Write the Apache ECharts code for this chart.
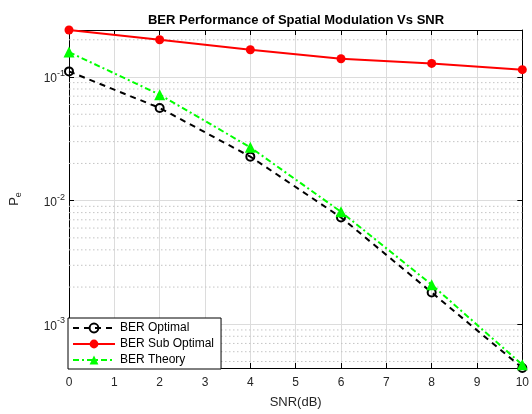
<!DOCTYPE html>
<html>
<head>
<meta charset="utf-8">
<script src="https://cdn.jsdelivr.net/npm/echarts@6/dist/echarts.min.js"></script>
<style>html,body{margin:0;padding:0;background:#fff}#c{width:532px;height:414px}</style>
</head>
<body>
<div id="c"></div>
<script>
const snr = [0, 2, 4, 6, 8, 10];
const berOptimal = [0.111, 0.0562, 0.0227, 0.00732, 0.00181, 0.000443];
const berSubOptimal = [0.240, 0.200, 0.166, 0.1406, 0.1288, 0.1146];
const berTheory = [0.159, 0.072, 0.0270, 0.00812, 0.00209, 0.000471];
const seriesNames = ['BER Optimal', 'BER Sub Optimal', 'BER Theory'];
const xTickValues = [0, 1, 2, 3, 4, 5, 6, 7, 8, 9, 10];
const decades = [1e-4, 1e-3, 1e-2, 1e-1];
const minorMultipliers = [2, 3, 4, 5, 6, 7, 8, 9];

const FONT = "'Liberation Sans', Arial, Helvetica, sans-serif";
const all = berOptimal.concat(berSubOptimal, berTheory);
const yMin = Math.min.apply(null, all);
const yMax = Math.max.apply(null, all);
const minorVals = [];
decades.forEach(d => minorMultipliers.forEach(m => {
  const v = d * m;
  if (v > yMin && v < yMax) minorVals.push(v);
}));
const pairs = arr => snr.map((x, i) => [x, arr[i]]);

const yLabelFmt = function (v) {
  const e = Math.round(Math.log10(v));
  if (Math.abs(Math.log10(v) - e) > 1e-6) return '';
  return '{b|10}{sup|' + e + '}';
};

const minorSeries = minorVals.map((v, i) => ({
  name: 'minor' + i, type: 'line', silent: true, z: 1,
  symbol: 'none', data: [[xTickValues[0], v], [xTickValues[xTickValues.length - 1], v]],
  lineStyle: {color: '#c4c4c4', type: [1.5, 2.5], width: 1},
  emphasis: {disabled: true}, tooltip: {show: false}
}));

const chart = echarts.init(document.getElementById('c'), null, {renderer: 'canvas'});
chart.setOption({
  animation: false,
  backgroundColor: '#fff',
  title: {
    text: 'BER Performance of Spatial Modulation Vs SNR',
    left: 291, top: 9, textAlign: 'center',
    textStyle: {fontFamily: FONT, fontSize: 13, fontWeight: 'bold', color: '#000'}
  },
  grid: {left: 68, right: 6, top: 30, bottom: 45, containLabel: false},
  legend: {
    data: seriesNames,
    orient: 'vertical', left: 68, bottom: 45,
    backgroundColor: '#fff', borderColor: '#000', borderWidth: 1, borderRadius: 0,
    padding: [4, 7, 3, 4], itemGap: 4, itemWidth: 42, itemHeight: 11,
    textStyle: {fontFamily: FONT, fontSize: 12, color: '#000'}
  },
  xAxis: [{
    type: 'value', min: 0, max: 10, interval: 1,
    name: 'SNR(dB)', nameLocation: 'middle', nameGap: 28,
    nameTextStyle: {fontFamily: FONT, fontSize: 13, color: '#262626'},
    axisLine: {show: true, onZero: false, lineStyle: {color: '#000', width: 1}},
    axisTick: {show: true, inside: true, length: 5, lineStyle: {color: '#000'}},
    axisLabel: {fontFamily: FONT, fontSize: 12, color: '#262626', margin: 9,
      formatter: v => (xTickValues.indexOf(v) >= 0 ? String(v) : '')},
    splitLine: {show: true, lineStyle: {color: '#dcdcdc', width: 1}}
  }, {
    type: 'value', min: 0, max: 10, interval: 1, position: 'top',
    axisLine: {show: true, onZero: false, lineStyle: {color: '#000', width: 1}},
    axisTick: {show: true, inside: true, length: 5, lineStyle: {color: '#000'}},
    axisLabel: {show: false}, splitLine: {show: false}
  }],
  yAxis: [{
    type: 'log', logBase: 10, min: yMin, max: yMax,
    name: 'P{s|e}', nameLocation: 'middle', nameGap: 46, nameRotate: 90,
    nameTextStyle: {fontFamily: FONT, fontSize: 13, color: '#262626',
      rich: {s: {fontFamily: FONT, fontSize: 9, color: '#262626', verticalAlign: 'bottom', padding: [8, 0, 0, 0]}}},
    axisLine: {show: true, onZero: false, lineStyle: {color: '#000', width: 1}},
    axisTick: {show: true, inside: true, length: 5, lineStyle: {color: '#000'}},
    axisLabel: {
      fontFamily: FONT, fontSize: 12, color: '#262626', margin: 4,
      showMinLabel: false, showMaxLabel: false,
      formatter: yLabelFmt,
      rich: {
        b: {fontFamily: FONT, fontSize: 12, color: '#262626', lineHeight: 16, verticalAlign: 'bottom'},
        sup: {fontFamily: FONT, fontSize: 9, color: '#262626', lineHeight: 16, verticalAlign: 'top', padding: [0, 0, 7, 0]}
      }
    },
    splitLine: {show: true, lineStyle: {color: '#dcdcdc', width: 1}}
  }, {
    type: 'log', logBase: 10, min: yMin, max: yMax, position: 'right',
    axisLine: {show: true, onZero: false, lineStyle: {color: '#000', width: 1}},
    axisTick: {show: true, inside: true, length: 5, lineStyle: {color: '#000'}},
    axisLabel: {show: false}, splitLine: {show: false}
  }],
  series: minorSeries.concat([{
    name: seriesNames[0], type: 'line', data: pairs(berOptimal), z: 3,
    symbol: 'circle', symbolSize: 8,
    lineStyle: {color: '#000', width: 2, type: [6, 5]},
    itemStyle: {color: 'rgba(255,255,255,0)', borderColor: '#000', borderWidth: 2}
  }, {
    name: seriesNames[1], type: 'line', data: pairs(berSubOptimal), z: 4,
    symbol: 'circle', symbolSize: 9,
    lineStyle: {color: '#ff0000', width: 2, type: 'solid'},
    itemStyle: {color: '#ff0000'}
  }, {
    name: seriesNames[2], type: 'line', data: pairs(berTheory), z: 5,
    symbol: 'triangle', symbolSize: 11,
    lineStyle: {color: '#00ff00', width: 2, type: [6, 3, 2, 3]},
    itemStyle: {color: '#00ff00'}
  }])
});
</script>
</body>
</html>
